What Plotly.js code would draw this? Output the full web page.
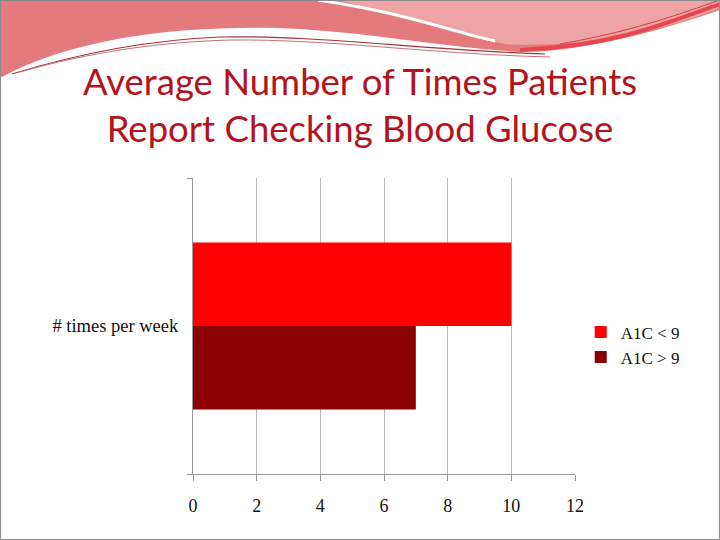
<!DOCTYPE html>
<html>
<head>
<meta charset="utf-8">
<script src="https://cdn.plot.ly/plotly-3.0.1.min.js"></script>
<style>html,body{margin:0;padding:0;background:#fff;}#chart{width:720px;height:540px;}</style>
</head>
<body>
<div id="chart"></div>
<script>
// ---- data ----
const categories = ["# times per week"];
const seriesNames = ["A1C < 9", "A1C > 9"];
const valuesLow = [10];   // A1C < 9
const valuesHigh = [7];   // A1C > 9
const xTickValues = [0, 2, 4, 6, 8, 10, 12];

// ---- geometry helpers for slide decoration ----
const L = 193, R = 575, T = 178, B = 474;
function px(x, y) { return ((x - L) / (R - L)).toFixed(4) + ',' + ((B - y) / (B - T)).toFixed(4); }
function path(cmds) {
  return cmds.map(c => {
    const letter = c[0];
    const pts = [];
    for (let i = 1; i < c.length; i += 2) pts.push(px(c[i], c[i + 1]));
    return letter + ' ' + pts.join(' ');
  }).join(' ');
}

const shapes = [
  {type:'path', xref:'paper', yref:'paper', layer:'below', line:{width:0},
   fillcolor:'#E47A7D',
   path: path([['M',0,0],['L',720,0],['L',720,10],['C',650,34,580,52,520,52],['C',450,48,380,34,300,29],['C',200,24,80,34,0,78],['Z']])},
  {type:'path', xref:'paper', yref:'paper', layer:'below', line:{width:0},
   fillcolor:'#EEA3A5',
   path: path([['M',335,0],['L',720,0],['L',720,8],['C',650,36,570,48,505,44],['C',440,32,390,10,335,0],['Z']])},
  {type:'path', xref:'paper', yref:'paper', layer:'below', line:{color:'#ffffff', width:3},
   path: path([['M',318,0],['C',400,12,440,28,495,41]])},
  {type:'path', xref:'paper', yref:'paper', layer:'below', line:{color:'#E6474C', width:4},
   path: path([['M',520,50],['C',610,46,660,26,720,4]])},
  {type:'path', xref:'paper', yref:'paper', layer:'below', line:{color:'#D04048', width:1},
   path: path([['M',560,44],['C',630,32,680,14,720,0]])},
  {type:'path', xref:'paper', yref:'paper', layer:'below', line:{color:'#A83038', width:1.2},
   path: path([['M',12,74],['C',80,53,150,40,220,37],['C',320,35,420,50,545,54]])},
  {type:'path', xref:'paper', yref:'paper', layer:'below', line:{color:'#C87078', width:1},
   path: path([['M',20,72],['C',90,52,160,42,230,40],['C',330,39,430,54,550,57]])},
  {type:'rect', xref:'paper', yref:'paper', layer:'below', fillcolor:'rgba(0,0,0,0)',
   line:{color:'#8a8a8a', width:1},
   x0:(0.5 - L) / (R - L), x1:(719.5 - L) / (R - L), y0:(B - 539.5) / (B - T), y1:(B - 0.5) / (B - T)}
];

const data = [
  {type:'bar', orientation:'h', name:seriesNames[0], y:categories, x:valuesLow,
   marker:{color:'#FF0000'}},
  {type:'bar', orientation:'h', name:seriesNames[1], y:categories, x:valuesHigh,
   marker:{color:'#8B0000'}}
];

const serif = '"Liberation Serif", "DejaVu Serif", serif';

const layout = {
  width:720, height:540,
  margin:{l:L, r:720 - R, t:T, b:540 - B, pad:0},
  paper_bgcolor:'#ffffff', plot_bgcolor:'rgba(0,0,0,0)',
  barmode:'group', bargap:0.436, bargroupgap:0,
  showlegend:true,
  title:{text:'Average Number of Times Patients<br>Report Checking Blood Glucose',
    font:{family:'Lato, "Noto Sans", sans-serif', size:36.5, color:'#B5121B'},
    x:0.5, xanchor:'center', xref:'container', y:1 - 95/540, yanchor:'top', yref:'container'},
  xaxis:{range:[0, 12], tickvals:xTickValues, ticktext:xTickValues.map(String),
    showgrid:true, gridcolor:'#b8b8b8', gridwidth:1, zeroline:false,
    showline:true, linecolor:'#9a9a9a', linewidth:1,
    ticks:'outside', ticklen:6, tickcolor:'#9a9a9a', ticklabelstandoff:9,
    tickfont:{family:serif, size:18, color:'#111'}, fixedrange:true},
  yaxis:{autorange:'reversed', showgrid:false, zeroline:false,
    showline:true, linecolor:'#9a9a9a', linewidth:1,
    ticks:'outside', tickson:'boundaries', ticklen:5, tickcolor:'#9a9a9a', ticklabelstandoff:10,
    tickfont:{family:serif, size:18.5, color:'#111'}, fixedrange:true},
  legend:{x:1.015, xanchor:'left', y:0.436, yanchor:'middle',
    font:{family:serif, size:17, color:'#111'}, bgcolor:'rgba(0,0,0,0)', tracegroupgap:4},
  shapes:shapes
};

Plotly.newPlot('chart', data, layout, {displayModeBar:false, staticPlot:true});
</script>
</body>
</html>
